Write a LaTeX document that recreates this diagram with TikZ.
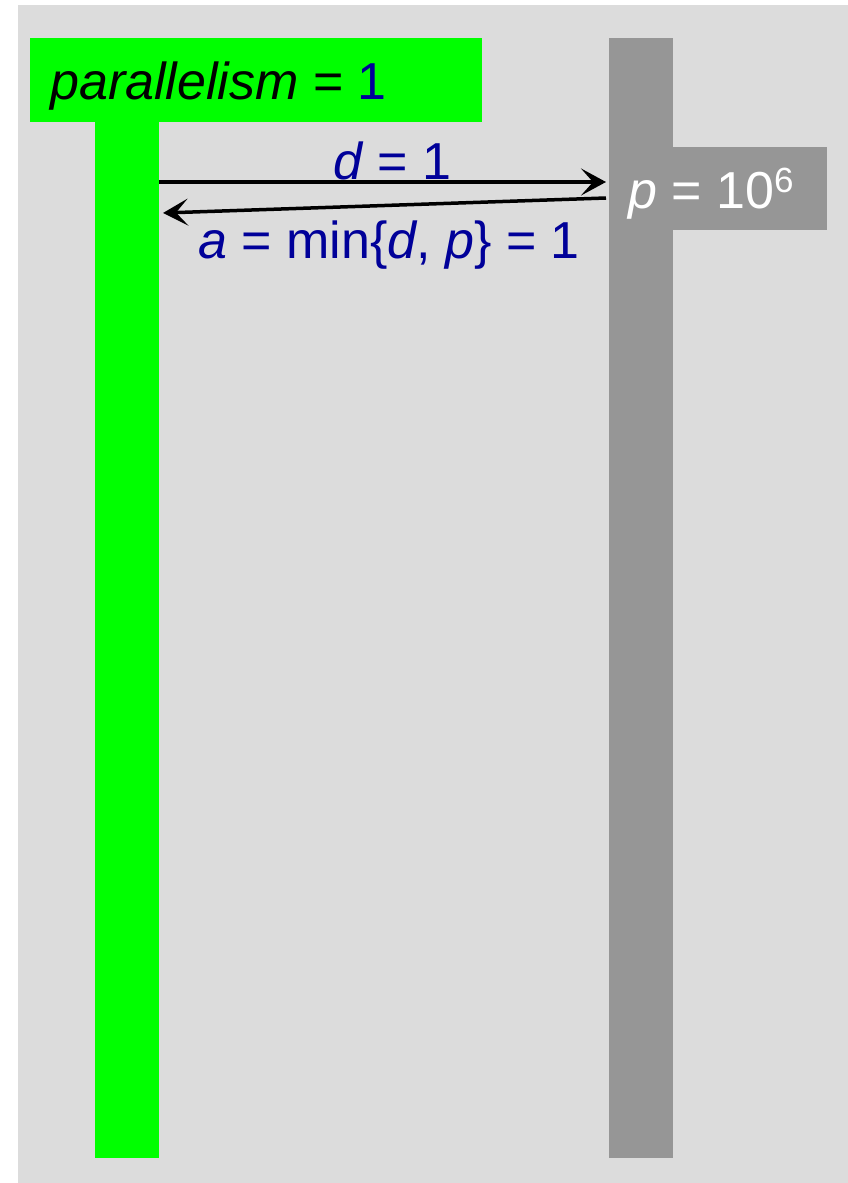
\documentclass[tikz,border=0pt]{standalone}
\usepackage{xcolor}
\usepackage{fontspec}
\setmainfont{Liberation Sans}
\usepackage{tikz}
\usetikzlibrary{arrows.meta,positioning}

\definecolor{bggray}{RGB}{220,220,220}
\definecolor{lanegray}{RGB}{150,150,150}
\definecolor{lanegreen}{RGB}{0,255,0}
\definecolor{msgblue}{RGB}{0,0,153}

\begin{document}
\begin{tikzpicture}[x=1pt, y=-1pt]
    \def\H{1120}
    \tikzset{lane/.style={rectangle, inner sep=0pt, minimum width=64pt, minimum height=\H pt, anchor=north west}}
    \tikzset{tag/.style={rectangle, inner sep=0pt, anchor=north west}}
    \tikzset{lbl/.style={inner sep=0pt, anchor=base west, font=\fontsize{52}{60}\selectfont}}
    \tikzset{msg/.style={line width=3.5pt, -{Stealth[length=25pt, width=27pt, inset=12pt]}}}

    \useasboundingbox (0,0) rectangle (848,1183);

    % BACKGROUND
    \fill[bggray] (18,5) rectangle (848,1183);

    % LIFELINES
    \node[lane, fill=lanegreen] (client) at (95,38) {};
    \node[lane, fill=lanegray] (server) at (609,38) {};
    \node[tag, fill=lanegreen, minimum width=452pt, minimum height=84pt] (head) at (30,38) {};
    \node[tag, fill=lanegray, minimum width=218pt, minimum height=83pt] (srvbox) at (609,147) {};

    % TEXTS
    \node[lbl] (headtxt) at (50,99) {\textit{parallelism} = \textcolor{msgblue}{1}};
    \node[lbl, text=white] (srvtxt) at (628,208) {\textit{p} = 10{\fontsize{35}{40}\selectfont\raisebox{16pt}{6}}};

    % MESSAGES
    \coordinate (reqA) at (client.east |- 0,182);
    \coordinate (reqB) at (606,182);
    \coordinate (repA) at (606,198);
    \coordinate (repB) at (163,213);
    \draw[msg] (reqA) -- (reqB);
    \draw[msg] (repA) -- (repB);
    \node[lbl, text=msgblue] (dlbl) at (333,179) {\textit{d} = 1};
    \node[lbl, text=msgblue] (albl) at (198,258) {\textit{a} = min\{\textit{d}, \textit{p}\} = 1};
\end{tikzpicture}
\end{document}
